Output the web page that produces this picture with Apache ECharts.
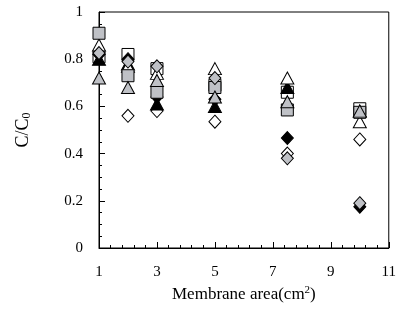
<!DOCTYPE html>
<html>
<head>
<meta charset="utf-8">
<script src="https://cdn.jsdelivr.net/npm/echarts@6/dist/echarts.min.js"></script>
<style>
  html, body { margin: 0; padding: 0; background: #fff; }
  #chart { width: 399px; height: 323px; }
</style>
</head>
<body>
<div id="chart"></div>
<script>
// Membrane areas (cm²) at which C/C0 was measured
const areas = [1, 2, 3, 5, 7.5, 10];

// C/C0 values per run
const openDiamond   = [0.82, 0.56, 0.58, 0.535, 0.40, 0.46];
const openSquare    = [0.81, 0.82, 0.76, 0.69, 0.66, 0.59];
const blackTriangle = [0.80, 0.78, 0.61, 0.60, 0.68, 0.58];
const blackDiamond  = [0.82, 0.80, 0.64, 0.63, 0.466, 0.175];
const openTriangle  = [0.86, 0.77, 0.74, 0.76, 0.72, 0.535];
const greySquare    = [0.91, 0.73, 0.66, 0.68, 0.585, 0.575];
const greyTriangle  = [0.72, 0.68, 0.71, 0.64, 0.62, 0.58];
const greyDiamond   = [0.826, 0.79, 0.77, 0.72, 0.38, 0.19];

const xTicks = [1, 3, 5, 7, 9, 11];
const yTicks = [0, 0.2, 0.4, 0.6, 0.8, 1];

const GREY = '#bfc1c6';
const FONT = '"Liberation Serif", "DejaVu Serif", serif';

function pairs(vals) {
  return areas.map((a, i) => [a, vals[i]]);
}

function scatter(vals, symbol, fill, size) {
  return {
    type: 'scatter',
    data: pairs(vals),
    symbol: symbol,
    symbolSize: size,
    itemStyle: { color: fill, borderColor: '#000', borderWidth: 1, opacity: 1 },
    emphasis: { disabled: true },
    z: 3
  };
}

const chart = echarts.init(document.getElementById('chart'), null, { renderer: 'canvas' });

chart.setOption({
  animation: false,
  backgroundColor: '#fff',
  grid: {
    left: 99, right: 10, top: 12, bottom: 75,
    show: true, borderColor: '#000', borderWidth: 1, backgroundColor: 'transparent'
  },
  xAxis: {
    type: 'value',
    min: 1, max: 11, interval: 2,
    name: 'Membrane area(cm{sup|2})',
    nameLocation: 'middle',
    nameGap: 35,
    nameTextStyle: {
      fontFamily: FONT, fontSize: 17, color: '#000',
      rich: { sup: { fontFamily: FONT, fontSize: 11, color: '#000', verticalAlign: 'top', padding: [0, 0, 9, 0] } }
    },
    axisLine: { show: true, lineStyle: { color: '#000', width: 1 } },
    axisTick: { show: true, inside: true, length: 6, lineStyle: { color: '#000' } },
    minorTick: { show: true, splitNumber: 5, length: 3, lineStyle: { color: '#000' } },
    splitLine: { show: false },
    axisLabel: {
      fontFamily: FONT, fontSize: 15, color: '#000', margin: 17,
      formatter: v => (xTicks.includes(v) ? String(v) : '')
    }
  },
  yAxis: {
    type: 'value',
    min: 0, max: 1, interval: 0.2,
    name: 'C/C{sub|0}',
    nameLocation: 'middle',
    nameGap: 66,
    nameRotate: 90,
    nameTextStyle: {
      fontFamily: FONT, fontSize: 18, color: '#000',
      rich: { sub: { fontFamily: FONT, fontSize: 12, color: '#000', verticalAlign: 'bottom', padding: [7, 0, 0, 0] } }
    },
    axisLine: { show: true, lineStyle: { color: '#000', width: 1 } },
    axisTick: { show: true, inside: true, length: 6, lineStyle: { color: '#000' } },
    minorTick: { show: true, splitNumber: 4, length: 3, lineStyle: { color: '#000' } },
    splitLine: { show: false },
    axisLabel: {
      fontFamily: FONT, fontSize: 15, color: '#000', margin: 16,
      formatter: v => {
        const t = yTicks.find(y => Math.abs(y - v) < 1e-9);
        return t === undefined ? '' : String(t);
      }
    }
  },
  series: [
    scatter(openDiamond, 'diamond', '#fff', [12, 13]),
    scatter(openSquare, 'rect', '#fff', [12, 12]),
    scatter(blackTriangle, 'triangle', '#000', [13, 12]),
    scatter(blackDiamond, 'diamond', '#000', [12, 13]),
    scatter(openTriangle, 'triangle', '#fff', [13, 12]),
    scatter(greySquare, 'rect', GREY, [12, 12]),
    scatter(greyTriangle, 'triangle', GREY, [13, 12]),
    scatter(greyDiamond, 'diamond', GREY, [12, 13])
  ]
});
</script>
</body>
</html>
